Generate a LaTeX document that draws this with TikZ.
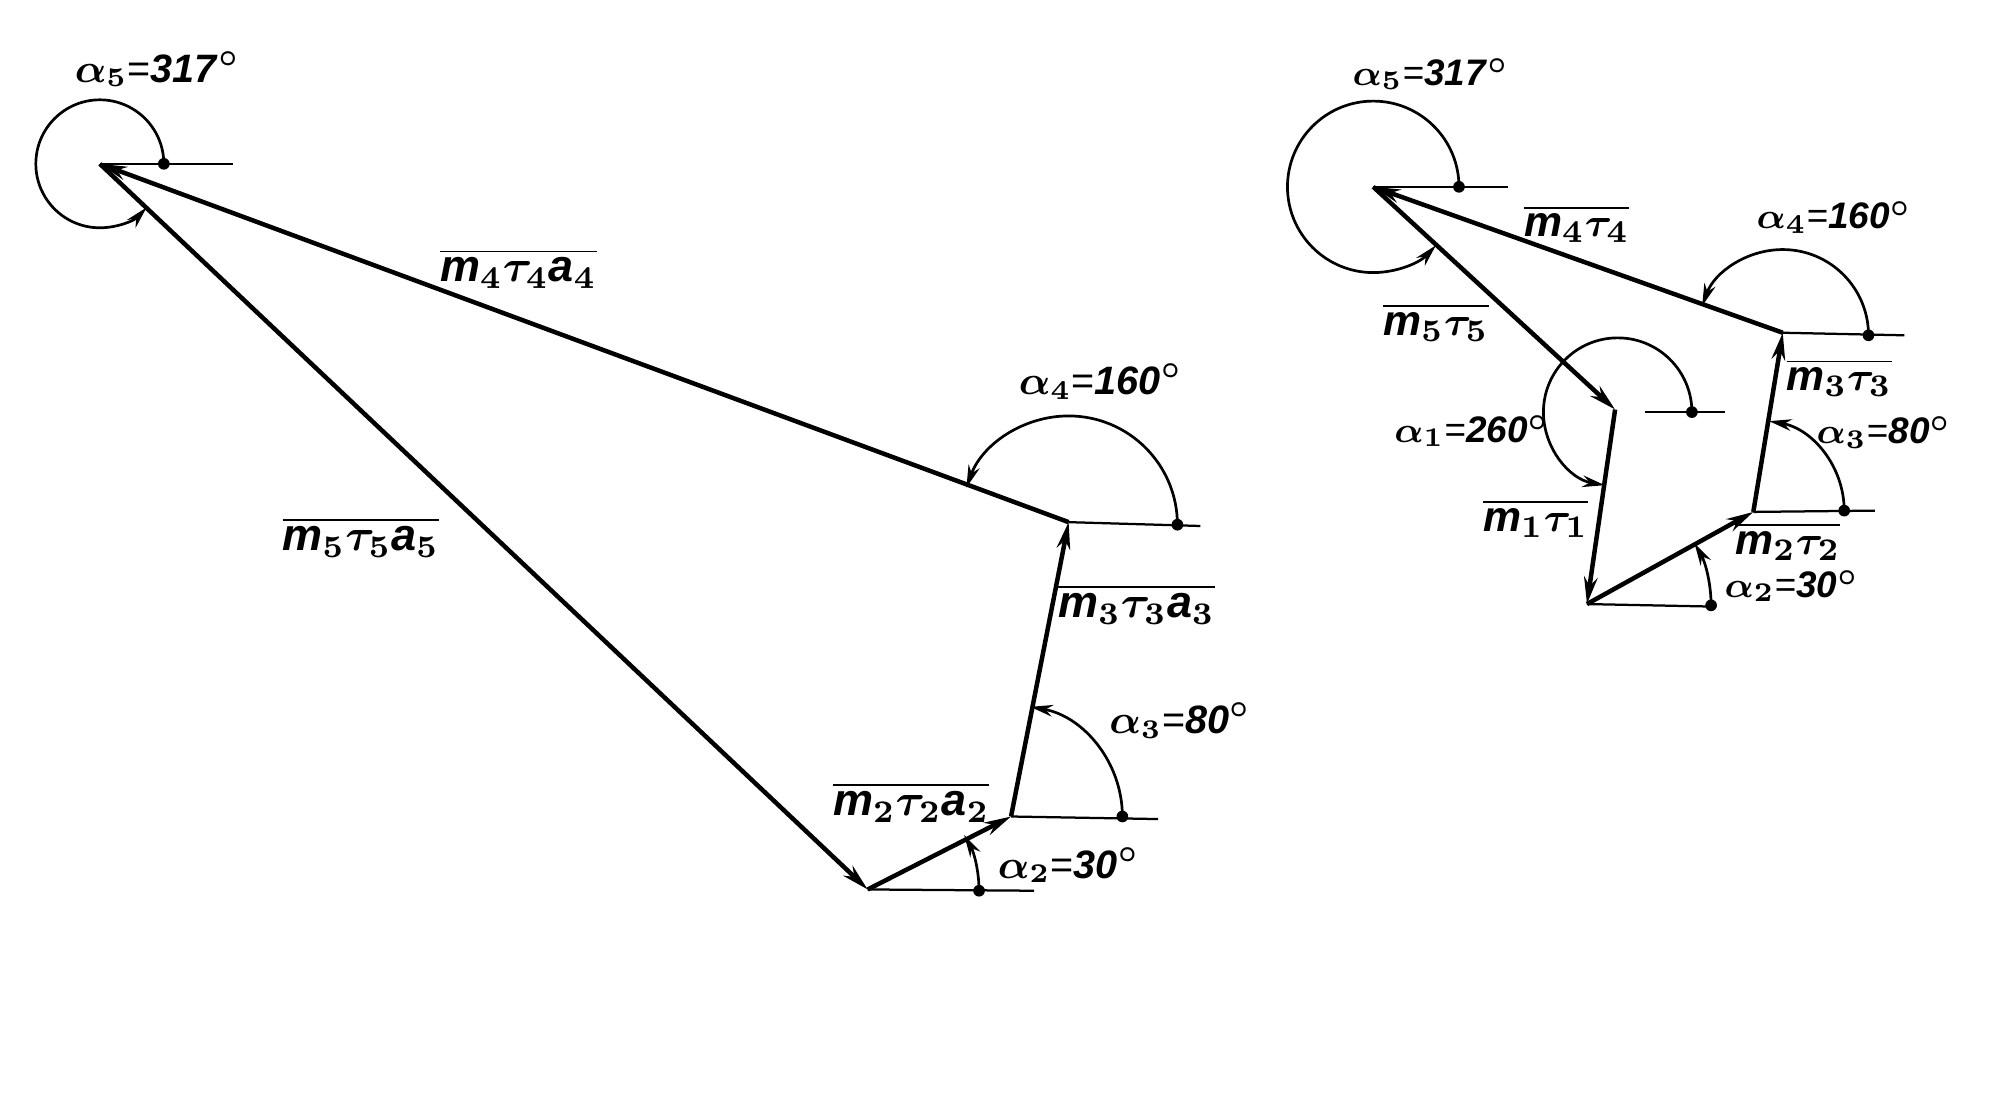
\documentclass[tikz,border=0pt]{standalone}
\usepackage{amsmath,amssymb,bm}
\usepackage{fontspec}
\setmainfont{Liberation Sans}
\usetikzlibrary{arrows.meta}
\tikzset{
	vecline/.style={line width=1pt,-{Stealth[length=6pt,width=3pt]}},
	tickline/.style={line width=0.5pt},
	angarc/.style={line width=0.6pt,-{Stealth[length=5pt,width=2.6pt]}},
	tickdot/.style={circle,fill,inner sep=0pt,minimum size=2.6pt},
	veclabel/.style={inner sep=0pt,font=\fontsize{10}{12}\selectfont\boldmath},
	smallvec/.style={veclabel,font=\fontsize{9.5}{12}\selectfont\boldmath},
	anglabel/.style={inner sep=0pt,font=\fontsize{8.8}{12}\selectfont\boldmath},
	smallang/.style={anglabel,font=\fontsize{8.2}{12}\selectfont\boldmath}
}
\newcommand{\vm}[1]{\text{\bfseries\itshape m}_{#1}}
\newcommand{\vr}[1]{\bm{\tau}_{#1}}
\newcommand{\va}[1]{\text{\bfseries\itshape a}_{#1}}
\newcommand{\ang}[2]{$\bm{\alpha}_{#1}$=\textbf{\textit{#2}}$^{\circ}$}
\begin{document}
\begin{tikzpicture}[x=0.01cm,y=0.01cm]
		\useasboundingbox (0,0) rectangle (1569,-855.6);
		% Left polygon
		\coordinate (A5) at (78,-128);
		\coordinate (A4) at (835,-408);
		\coordinate (A3) at (790,-638);
		\coordinate (A2) at (678,-695);

		\node[tickdot] (DA5) at (128,-128) {};
		\node[tickdot] (DA4) at (920,-410) {};
		\node[tickdot] (DA3) at (877,-638) {};
		\node[tickdot] (DA2) at (765,-696) {};
		\coordinate (EA5) at (182,-128);
		\coordinate (EA4) at (938,-411);
		\coordinate (EA3) at (905,-640);
		\coordinate (EA2) at (808,-696);

		\draw[vecline] (A2) -- (A3);
		\draw[vecline] (A3) -- (A4);
		\draw[vecline] (A4) -- (A5);
		\draw[vecline] (A5) -- (A2);

		\draw[tickline] (A5) -- (EA5);
		\draw[tickline] (A4) -- (EA4);
		\draw[tickline] (A3) -- (EA3);
		\draw[tickline] (A2) -- (EA2);

		\draw[angarc] (DA5.center) arc[start angle=0,end angle=317,radius=50];
		\draw[angarc] (DA4.center) arc[start angle=0,end angle=160,radius=85];
		\draw[angarc] (DA3.center) arc[start angle=0,end angle=80,radius=87];
		\draw[angarc] (DA2.center) arc[start angle=0,end angle=30,radius=87];

		\node[anglabel] (LA5) at (123,-54) {\ang{5}{317}};
		\node[anglabel] (LA4) at (860,-298) {\ang{4}{160}};
		\node[anglabel] (LA3) at (922,-563) {\ang{3}{80}};
		\node[anglabel] (LA2) at (835,-676) {\ang{2}{30}};
		\node[veclabel] (VA4) at (405,-210) {$\overline{\vm{4}\vr{4}\va{4}}$};
		\node[veclabel] (VA5) at (282,-420) {$\overline{\vm{5}\vr{5}\va{5}}$};
		\node[veclabel] (VA3) at (888,-472) {$\overline{\vm{3}\vr{3}\va{3}}$};
		\node[veclabel] (VA2) at (712,-627) {$\overline{\vm{2}\vr{2}\va{2}}$};

		% Right polygon
		\coordinate (B5) at (1073,-146);
		\coordinate (B4) at (1393,-260);
		\coordinate (B3) at (1370,-400);
		\coordinate (B2) at (1240,-472);
		\coordinate (B1) at (1262,-320);

		\node[tickdot] (DB5) at (1140,-146) {};
		\node[tickdot] (DB4) at (1460,-262) {};
		\node[tickdot] (DB3) at (1441,-399) {};
		\node[tickdot] (DB2) at (1337,-473) {};
		\node[tickdot] (DB1) at (1322,-322) {};
		\coordinate (EB5) at (1178,-146);
		\coordinate (EB4) at (1488,-262);
		\coordinate (EB3) at (1465,-399);
		\coordinate (EB2) at (1340,-474);
		\coordinate (SB1) at (1285,-322);
		\coordinate (EB1) at (1348,-322);

		\draw[vecline] (B1) -- (B2);
		\draw[vecline] (B2) -- (B3);
		\draw[vecline] (B3) -- (B4);
		\draw[vecline] (B4) -- (B5);
		\draw[vecline] (B5) -- (B1);

		\draw[tickline] (B5) -- (EB5);
		\draw[tickline] (B4) -- (EB4);
		\draw[tickline] (B3) -- (EB3);
		\draw[tickline] (B2) -- (EB2);
		\draw[tickline] (SB1) -- (EB1);

		\draw[angarc] (DB5.center) arc[start angle=0,end angle=317,radius=67];
		\draw[angarc] (DB4.center) arc[start angle=0,end angle=160,radius=67];
		\draw[angarc] (DB3.center) arc[start angle=0,end angle=80,radius=71];
		\draw[angarc] (DB2.center) arc[start angle=0,end angle=30,radius=97];
		\draw[angarc] (DB1.center) arc[start angle=0,end angle=260,radius=58];

		\node[smallang] (LB5) at (1118,-58) {\ang{5}{317}};
		\node[smallang] (LB4) at (1433,-170) {\ang{4}{160}};
		\node[smallang] (LB3) at (1472,-338) {\ang{3}{80}};
		\node[smallang] (LB2) at (1400,-458) {\ang{2}{30}};
		\node[smallang] (LB1) at (1150,-337) {\ang{1}{260}};
		\node[smallvec] (VB4) at (1232,-175) {$\overline{\vm{4}\vr{4}}$};
		\node[smallvec] (VB5) at (1122,-252) {$\overline{\vm{5}\vr{5}}$};
		\node[smallvec] (VB3) at (1437,-295) {$\overline{\vm{3}\vr{3}}$};
		\node[smallvec] (VB2) at (1397,-423) {$\overline{\vm{2}\vr{2}}$};
		\node[smallvec] (VB1) at (1200,-405) {$\overline{\vm{1}\vr{1}}$};
	\end{tikzpicture}
\end{document}
